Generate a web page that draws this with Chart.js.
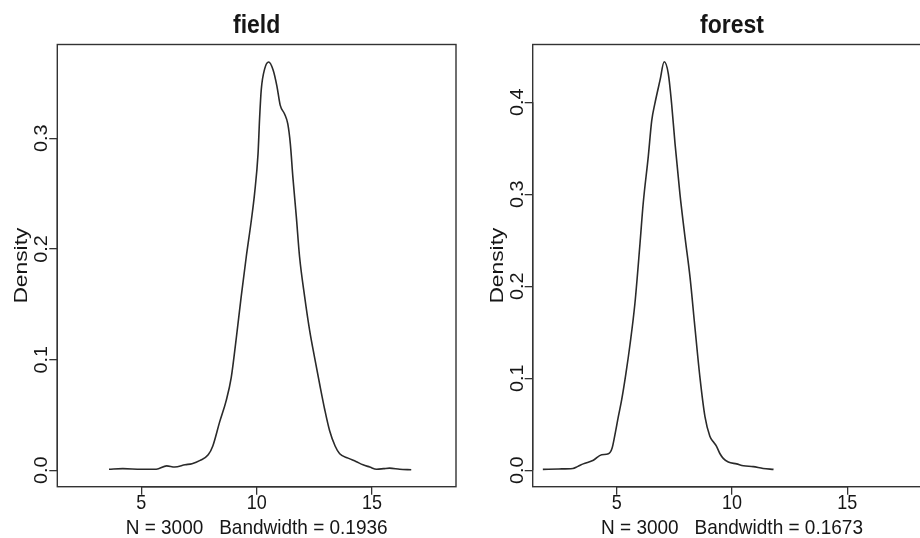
<!DOCTYPE html>
<html>
<head>
<meta charset="utf-8">
<script src="https://cdn.jsdelivr.net/npm/chart.js@4.4.0/dist/chart.umd.min.js"></script>
<style>
  html, body { margin: 0; padding: 0; background: #fff; overflow: hidden; }
  body { width: 920px; height: 538px; position: relative; }
  .panel { position: absolute; top: 0; height: 538px; }
  #field_box { left: 0; width: 460px; }
  #forest_box { left: 460px; width: 480px; }
</style>
</head>
<body>
<div class="panel" id="field_box"><canvas id="chart_field" width="460" height="538"></canvas></div>
<div class="panel" id="forest_box"><canvas id="chart_forest" width="480" height="538"></canvas></div>
<script>
// density curves (x, density)
const fieldX = [3.6, 4.2, 5.0, 5.65, 6.1, 6.45, 6.9, 7.2, 7.55, 7.9, 8.1, 8.4, 8.68, 8.9, 9.12, 9.33, 9.55, 9.77, 9.91, 10.06, 10.13, 10.2, 10.35, 10.52, 10.71, 10.88, 11.02, 11.21, 11.35, 11.46, 11.57, 11.72, 11.86, 12.08, 12.3, 12.51, 12.73, 12.95, 13.16, 13.4, 13.6, 13.96, 14.3, 14.61, 14.9, 15.2, 15.5, 15.76, 16.2, 16.7];
const fieldDensity = [0.001, 0.0015, 0.001, 0.001, 0.004, 0.003, 0.005, 0.006, 0.009, 0.014, 0.022, 0.044, 0.063, 0.084, 0.12, 0.157, 0.193, 0.226, 0.25, 0.286, 0.319, 0.344, 0.363, 0.369, 0.362, 0.347, 0.33, 0.322, 0.313, 0.295, 0.265, 0.229, 0.193, 0.157, 0.126, 0.102, 0.078, 0.055, 0.036, 0.022, 0.015, 0.011, 0.008, 0.005, 0.003, 0.001, 0.0015, 0.002, 0.001, 0.0005];

const forestX = [1.8, 2.5, 3.1, 3.3, 3.55, 3.99, 4.35, 4.64, 4.8, 4.92, 5.07, 5.22, 5.4, 5.58, 5.79, 6.01, 6.15, 6.37, 6.52, 6.66, 6.88, 7.06, 7.24, 7.38, 7.53, 7.74, 7.96, 8.18, 8.39, 8.61, 8.83, 9.04, 9.19, 9.33, 9.48, 9.62, 9.84, 10.2, 10.5, 10.92, 11.35, 11.8];
const forestDensity = [0.001, 0.0015, 0.002, 0.004, 0.007, 0.011, 0.017, 0.018, 0.024, 0.038, 0.058, 0.077, 0.105, 0.137, 0.181, 0.246, 0.29, 0.341, 0.38, 0.399, 0.424, 0.444, 0.431, 0.399, 0.355, 0.301, 0.254, 0.21, 0.156, 0.101, 0.058, 0.037, 0.031, 0.026, 0.018, 0.013, 0.009, 0.007, 0.005, 0.004, 0.002, 0.001];

const xTicks = [5, 10, 15];
const fieldYTicks = [0, 0.1, 0.2, 0.3];
const forestYTicks = [0, 0.1, 0.2, 0.3, 0.4];
const fieldXLabel = "N = 3000   Bandwidth = 0.1936";
const forestXLabel = "N = 3000   Bandwidth = 0.1673";

const FONT = '"Liberation Sans", Arial, Helvetica, sans-serif';

function drawText(ctx, text, x, y, font, rot, sx, sy) {
  ctx.save();
  ctx.translate(x, y);
  ctx.rotate(rot);
  ctx.scale(sx, sy);
  ctx.font = font;
  ctx.textAlign = "center";
  ctx.textBaseline = "alphabetic";
  ctx.fillText(text, 0, 0);
  ctx.restore();
}

// R style frame: box, titles and labels
const rFrame = {
  id: "rFrame",
  afterDraw(chart, args, opts) {
    const { ctx, chartArea: a } = chart;
    const sx = chart.scales.x;
    const sy = chart.scales.y;
    ctx.save();
    ctx.strokeStyle = "#333";
    ctx.lineWidth = 1.4;
    ctx.strokeRect(a.left, a.top, a.right - a.left, a.bottom - a.top);
    // axis lines from first to last tick
    ctx.beginPath();
    ctx.moveTo(sx.getPixelForValue(xTicks[0]), a.bottom);
    ctx.lineTo(sx.getPixelForValue(xTicks[xTicks.length - 1]), a.bottom);
    ctx.moveTo(a.left, sy.getPixelForValue(opts.yTicks[0]));
    ctx.lineTo(a.left, sy.getPixelForValue(opts.yTicks[opts.yTicks.length - 1]));
    ctx.stroke();

    ctx.fillStyle = "#161616";
    const cx = (a.left + a.right) / 2;
    const cy = (a.top + a.bottom) / 2;
    drawText(ctx, opts.title, cx, 32.5, "bold 23px " + FONT, 0, 1, 1.12);
    xTicks.forEach((v) => {
      drawText(ctx, String(v), sx.getPixelForValue(v), 508.5, "18px " + FONT, 0, 1, 1.1);
    });
    drawText(ctx, opts.xLabel, cx, 533.5, "19px " + FONT, 0, 1, 1.1);
    opts.yTicks.forEach((v) => {
      drawText(ctx, v.toFixed(1), a.left - 10, sy.getPixelForValue(v), "18px " + FONT, -Math.PI / 2, 1.1, 1);
    });
    drawText(ctx, "Density", a.left - 30, cy, "19px " + FONT, -Math.PI / 2, 1.2, 1);
    ctx.restore();
  },
};

function makePanel(canvasId, xs, ys, yTicks, yMax, title, xLabel, yWidth, padRight) {
  const yPad = yMax * 0.04;
  return new Chart(document.getElementById(canvasId), {
    type: "scatter",
    data: {
      datasets: [
        {
          data: xs.map((x, i) => ({ x: x, y: ys[i] })),
          showLine: true,
          borderColor: "#2a2a2a",
          borderWidth: 1.6,
          pointRadius: 0,
          cubicInterpolationMode: "monotone",
        },
      ],
    },
    options: {
      responsive: false,
      animation: false,
      layout: { padding: { top: 44.5, right: padRight, left: 0, bottom: 0 } },
      plugins: {
        legend: { display: false },
        tooltip: { enabled: false },
        rFrame: { title: title, xLabel: xLabel, yTicks: yTicks },
      },
      scales: {
        x: {
          type: "linear",
          min: 2 - 0.64,
          max: 18 + 0.64,
          afterBuildTicks: (s) => { s.ticks = xTicks.map((v) => ({ value: v })); },
          afterFit: (s) => { s.height = 51.3; },
          ticks: { display: false },
          grid: { drawOnChartArea: false, drawTicks: true, tickLength: 8, color: "#333", lineWidth: 1.3 },
          border: { display: false },
        },
        y: {
          type: "linear",
          min: -yPad,
          max: yMax + yPad,
          afterBuildTicks: (s) => { s.ticks = yTicks.map((v) => ({ value: v })); },
          afterFit: (s) => { s.width = yWidth; },
          ticks: { display: false },
          grid: { drawOnChartArea: false, drawTicks: true, tickLength: 8, color: "#333", lineWidth: 1.3 },
          border: { display: false },
        },
      },
    },
    plugins: [rFrame],
  });
}

makePanel("chart_field", fieldX, fieldDensity, fieldYTicks, 0.37, "field", fieldXLabel, 57.3, 4);
makePanel("chart_forest", forestX, forestDensity, forestYTicks, 0.445, "forest", forestXLabel, 72.7, 8.7);
</script>
</body>
</html>
